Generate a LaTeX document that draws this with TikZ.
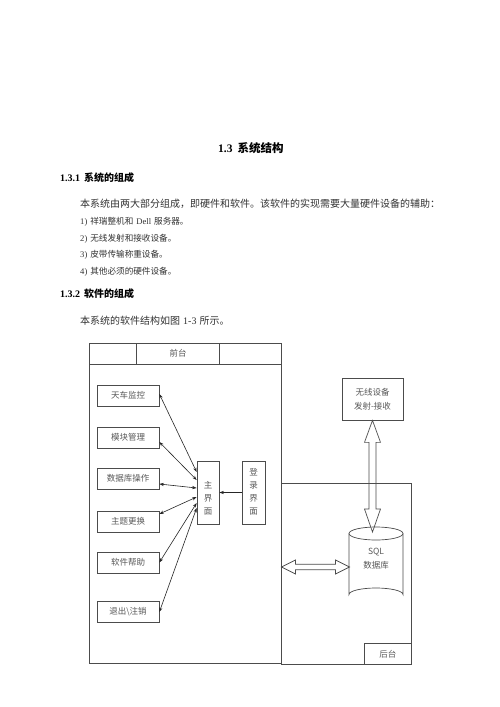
\documentclass[tikz,border=0pt]{standalone}
\usepackage{fontspec}
\setmainfont{Liberation Serif}
\newfontfamily\cjk{Noto Sans CJK SC}
\usetikzlibrary{arrows.meta,calc}
\begin{document}
\begin{tikzpicture}[x=1pt,y=-1pt,
  frame/.style={draw=black!70,line width=0.7pt},
  box/.style={frame,inner sep=0pt,minimum width=62pt,minimum height=21pt,
    font=\cjk\fontsize{8.5}{10}\selectfont,text=black!65},
  vbox/.style={frame,inner sep=0pt,minimum width=22pt,minimum height=63pt},
  vlabel/.style={inner sep=0pt,align=center,font=\cjk\fontsize{8.5}{13}\selectfont,text=black!65},
  bigbox/.style={frame,inner sep=0pt,anchor=north west},
  lbl/.style={inner sep=0pt,font=\cjk\fontsize{8.5}{14}\selectfont,text=black!65,align=center},
  link/.style={draw=black!85,line width=0.6pt,{Stealth[length=4.5pt,width=3.2pt]}-{Stealth[length=4.5pt,width=3.2pt]}},
  single/.style={draw=black!85,line width=0.6pt,-{Stealth[length=4.5pt,width=3.2pt]}},
  hollow/.style={draw=black!70,line width=0.7pt},
  txt/.style={anchor=base west,inner sep=0pt,text=black!80}]
\fill[white] (0,0) rectangle (500,707);
\useasboundingbox (0,0) rectangle (500,707);

% ---------- text ----------
\node[txt,text=black,font=\fontsize{11.5}{14}\selectfont\bfseries] (title) at (218,152.5)
  {1.3\hspace{5pt}{\cjk\bfseries 系统结构}};
\node[txt,text=black,font=\fontsize{10}{12}\selectfont\bfseries] (s1) at (60,181.8)
  {1.3.1\hspace{4pt}{\cjk\bfseries 系统的组成}};
\node[txt,font=\fontsize{10}{12}\selectfont] (p1) at (80,207)
  {{\cjk 本系统由两大部分组成，即硬件和软件。该软件的实现需要大量硬件设备的辅助：}};
\node[txt,font=\fontsize{8.6}{11}\selectfont] (i1) at (80,224.5)
  {1)\hspace{3pt}{\cjk 祥瑞整机和}\hspace{3pt}Dell\hspace{3pt}{\cjk 服务器。}};
\node[txt,font=\fontsize{8.6}{11}\selectfont] (i2) at (80,241)
  {2)\hspace{3pt}{\cjk 无线发射和接收设备。}};
\node[txt,font=\fontsize{8.6}{11}\selectfont] (i3) at (80,257.8)
  {3)\hspace{3pt}{\cjk 皮带传输称重设备。}};
\node[txt,font=\fontsize{8.6}{11}\selectfont] (i4) at (80,274.5)
  {4)\hspace{3pt}{\cjk 其他必须的硬件设备。}};
\node[txt,text=black,font=\fontsize{10}{12}\selectfont\bfseries] (s2) at (60,297.8)
  {1.3.2\hspace{4pt}{\cjk\bfseries 软件的组成}};
\node[txt,font=\fontsize{10}{12}\selectfont] (p2) at (80,324)
  {{\cjk 本系统的软件结构如图}\hspace{3pt}1-3\hspace{3pt}{\cjk 所示。}};

% ---------- front (前台) ----------
\node[bigbox,minimum width=192pt,minimum height=320pt] (front) at (89,343) {};
\draw[frame] (89,364) -- (281,364);
\draw[frame] (136,343) -- (136,364);
\draw[frame] (219,343) -- (219,364);
\node[lbl] (qt) at (178,353.5) {前台};

% ---------- back (后台) ----------
\node[bigbox,minimum width=130pt,minimum height=181pt] (back) at (281,483) {};
\node[frame,inner sep=0pt,anchor=south east,minimum width=47pt,minimum height=21pt,
  font=\cjk\fontsize{8.5}{10}\selectfont,text=black!65] (ht) at (back.south east) {后台};

% ---------- left module boxes ----------
\node[box] (tc) at (128,395.5) {天车监控};
\node[box] (mk) at (128,437.5) {模块管理};
\node[box] (sj) at (128,478.5) {数据库操作};
\node[box] (zt) at (128,521.5) {主题更换};
\node[box] (rj) at (128,562.5) {软件帮助};
\node[box] (tu) at (128,612) {退出\textbackslash 注销};

% ---------- main & login ----------
\node[vbox] (main) at (208,492.5) {};
\node[vlabel] (mainl) at (208,498) {主\\界\\面};
\node[vbox,minimum width=23pt] (login) at (253.5,492.5) {};
\node[vlabel] (loginl) at (253.5,491.5) {登\\录\\界\\面};

\draw[link] ($(tc.east)+(0,-1.5)$) -- ($(main.west)+(0,-20.5)$);
\draw[link] ($(mk.east)+(0,4.5)$) -- ($(main.west)+(0,-12.5)$);
\draw[link] ($(sj.east)+(0,5.5)$) -- ($(main.west)+(0,-4.5)$);
\draw[link] ($(zt.east)+(0,-7.5)$) -- ($(main.west)+(0,4.5)$);
\draw[link] (rj.east) -- ($(main.west)+(0,10.5)$);
\draw[link] (tu.east) -- ($(main.west)+(0,15.5)$);
\draw[single] (login.west) -- (main.east);

% ---------- wireless ----------
\node[frame,inner sep=0pt,minimum width=61pt,minimum height=42pt,
  font=\cjk\fontsize{8.5}{14}\selectfont,text=black!65,align=center] (wl) at (372.5,399)
  {无线设备\\发射-接收};

% ---------- database cylinder ----------
\coordinate (dbtop) at (376,533.5);
\coordinate (dbbot) at (376,594.5);
\draw[frame] ($(dbtop)+(-27,0)$) -- ($(dbbot)+(-27,0)$)
  arc[start angle=180,end angle=0,x radius=27pt,y radius=6.5pt]
  -- ($(dbtop)+(27,0)$);
\draw[frame] (dbtop) ellipse[x radius=27pt,y radius=6.5pt];
\node[lbl] (db) at (376,559) {SQL\\数据库};

% ---------- hollow arrows ----------
\coordinate (vtip) at (372.5,532);
\draw[hollow] (wl.south) -- ($(wl.south)+(8,22)$) -- ($(wl.south)+(3.5,22)$)
  -- ($(vtip)+(3.5,-23)$) -- ($(vtip)+(8,-23)$) -- (vtip)
  -- ($(vtip)+(-8,-23)$) -- ($(vtip)+(-3.5,-23)$)
  -- ($(wl.south)+(-3.5,22)$) -- ($(wl.south)+(-8,22)$) -- cycle;
\coordinate (hl) at (281.5,567);
\coordinate (hr) at (349.5,567);
\draw[hollow] (hl) -- ($(hl)+(14,-7)$) -- ($(hl)+(14,-2.7)$)
  -- ($(hr)+(-14,-2.7)$) -- ($(hr)+(-14,-7)$) -- (hr)
  -- ($(hr)+(-14,7)$) -- ($(hr)+(-14,2.7)$)
  -- ($(hl)+(14,2.7)$) -- ($(hl)+(14,7)$) -- cycle;
\end{tikzpicture}
\end{document}
